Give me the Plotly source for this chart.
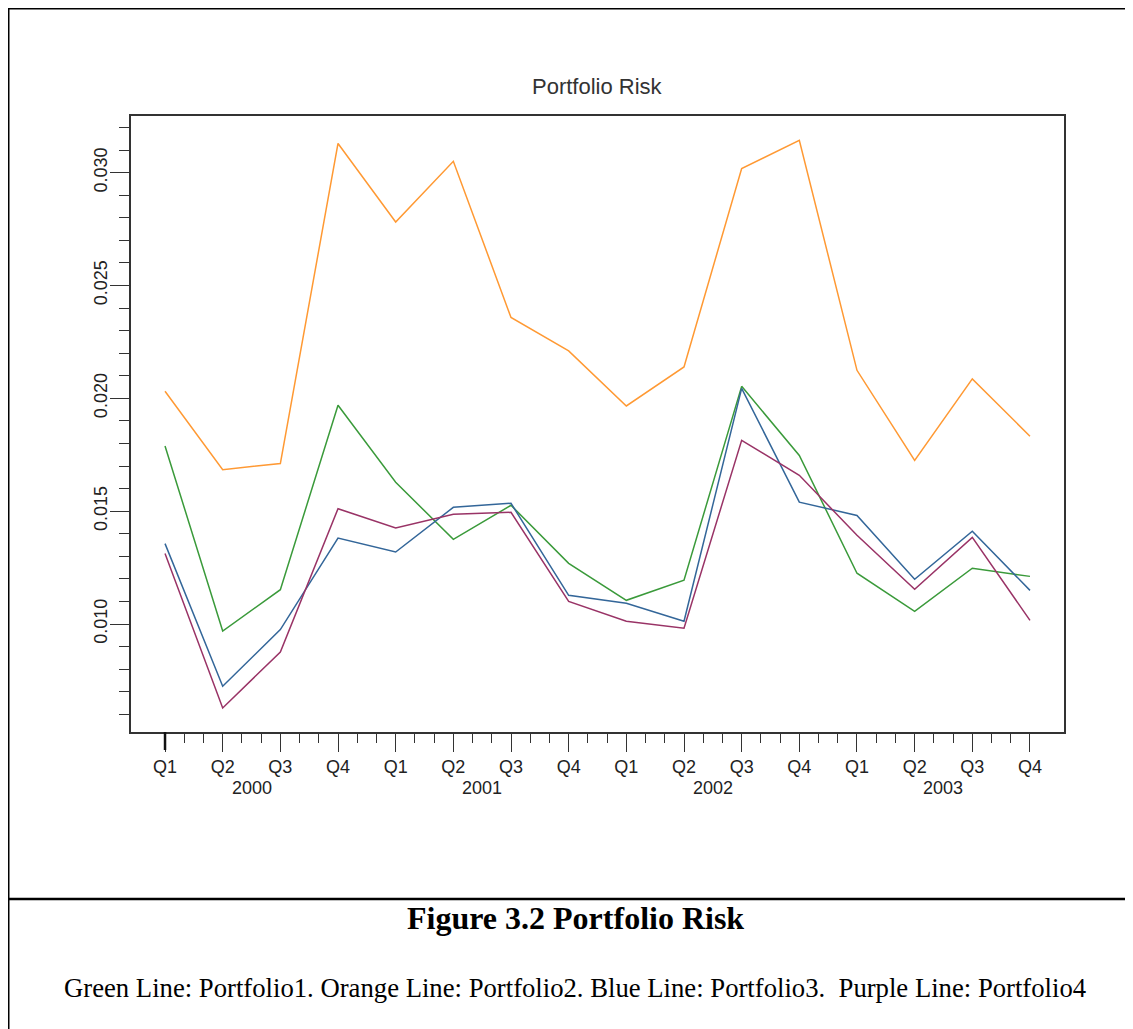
import plotly.graph_objects as go

# ---------------- data ----------------
quarter_labels = ["Q1", "Q2", "Q3", "Q4"] * 4
year_labels = ["2000", "2001", "2002", "2003"]
period_index = list(range(16))

portfolio1 = [0.01789, 0.00969, 0.01152, 0.01969, 0.01628, 0.01375, 0.01526, 0.01269,
              0.01105, 0.01194, 0.02053, 0.01747, 0.01225, 0.01056, 0.01247, 0.01211]
portfolio2 = [0.02031, 0.01684, 0.01711, 0.03129, 0.02781, 0.03050, 0.02358, 0.02210,
              0.01966, 0.02139, 0.03018, 0.03143, 0.02124, 0.01725, 0.02086, 0.01832]
portfolio3 = [0.01356, 0.00724, 0.00975, 0.01381, 0.01319, 0.01517, 0.01535, 0.01127,
              0.01092, 0.01012, 0.02044, 0.01540, 0.01481, 0.01198, 0.01411, 0.01149]
portfolio4 = [0.01312, 0.00628, 0.00876, 0.01511, 0.01425, 0.01486, 0.01495, 0.01100,
              0.01012, 0.00981, 0.01814, 0.01659, 0.01393, 0.01154, 0.01384, 0.01016]

y_major = [0.010, 0.015, 0.020, 0.025, 0.030]
y_major_text = ["0.010", "0.015", "0.020", "0.025", "0.030"]

series = [
    ("Portfolio1", portfolio1, "#3a9a3a"),
    ("Portfolio2", portfolio2, "#ff9933"),
    ("Portfolio3", portfolio3, "#336699"),
    ("Portfolio4", portfolio4, "#993366"),
]

# ---------------- layout geometry (page pixels; page has an 8px body margin) ----------------
OFF = 8
W, H = 1133, 1029
L, R, T, B = 131 - OFF, 1064 - OFF, 116 - OFF, 732 - OFF


def px(x):
    return (x - OFF - L) / (R - L)


def py(y):
    return (B - (y - OFF)) / (B - T)


fig = go.Figure()
for name, vals, col in series:
    fig.add_trace(go.Scatter(x=period_index, y=vals, mode="lines", name=name,
                             line=dict(color=col, width=1.5)))

axis_col = "#333333"
tick_font = dict(family="Liberation Sans, Arial, sans-serif", size=18, color="#222222")

minor_x = [i / 3 for i in range(46)]
minor_y = [round(0.006 + 0.001 * i, 3) for i in range(27)]

fig.update_layout(
    width=W, height=H,
    margin=dict(l=L, r=W - R, t=T, b=H - B, pad=0),
    paper_bgcolor="white", plot_bgcolor="white",
    showlegend=False,
    xaxis=dict(
        range=[-0.59, 15.59], tickmode="array", tickvals=period_index, ticktext=quarter_labels,
        ticks="outside", ticklen=18, tickwidth=1, tickcolor=axis_col,
        showline=True, linecolor=axis_col, linewidth=1.5, mirror=True,
        showgrid=False, zeroline=False, tickfont=tick_font,
        minor=dict(tickmode="array", tickvals=minor_x, ticks="outside", ticklen=9,
                   tickwidth=1, tickcolor=axis_col, showgrid=False),
    ),
    yaxis=dict(
        range=[0.005215, 0.032508], tickmode="array", tickvals=y_major, ticktext=y_major_text,
        tickangle=-90, ticklabelstandoff=-4,
        ticks="outside", ticklen=19, tickwidth=1, tickcolor=axis_col,
        showline=True, linecolor=axis_col, linewidth=1.5, mirror=True,
        showgrid=False, zeroline=False, tickfont=tick_font,
        minor=dict(tickmode="array", tickvals=minor_y, ticks="outside", ticklen=10,
                   tickwidth=1, tickcolor=axis_col, showgrid=False),
    ),
)

# bold first tick
fig.add_shape(type="line", xref="x", yref="paper", x0=0, x1=0, y0=0, y1=py(732 + 18),
              line=dict(color="#111111", width=2.5))

# year labels
for i, yr in enumerate(year_labels):
    fig.add_annotation(x=4 * i + 1.5, xref="x", y=py(788), yref="paper", text=yr,
                       showarrow=False, yanchor="middle", xanchor="center", font=tick_font)

# chart title
fig.add_annotation(x=px(597), xref="paper", y=py(86), yref="paper", text="Portfolio Risk",
                   showarrow=False, yanchor="middle", xanchor="center",
                   font=dict(family="Liberation Sans, Arial, sans-serif", size=22, color="#333333"))

# outer frame lines
frame = dict(color="black", width=3)
fig.add_shape(type="line", xref="paper", yref="paper", x0=px(7), x1=px(1150), y0=py(8), y1=py(8), line=frame)
fig.add_shape(type="line", xref="paper", yref="paper", x0=px(8), x1=px(8), y0=py(7), y1=py(1040), line=frame)
fig.add_shape(type="line", xref="paper", yref="paper", x0=px(0), x1=px(1150), y0=py(899), y1=py(899),
              line=dict(color="black", width=2.5))

# caption
fig.add_annotation(x=px(575), xref="paper", y=py(918), yref="paper",
                   text="<b>Figure 3.2 Portfolio Risk</b>", showarrow=False,
                   yanchor="middle", xanchor="center",
                   font=dict(family="Liberation Serif, Times New Roman, serif", size=32, color="black"))
fig.add_annotation(x=px(575), xref="paper", y=py(988), yref="paper",
                   text="Green Line: Portfolio1. Orange Line: Portfolio2. Blue Line: Portfolio3. \u00a0Purple Line: Portfolio4",
                   showarrow=False, yanchor="middle", xanchor="center",
                   font=dict(family="Liberation Serif, Times New Roman, serif", size=26.7, color="black"))

fig.write_html("out.html")
